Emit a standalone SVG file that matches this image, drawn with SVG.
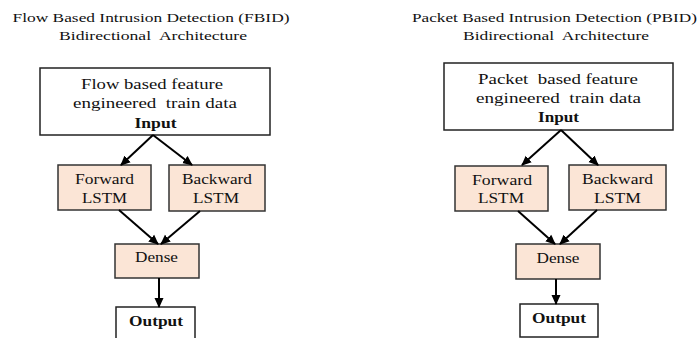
<svg xmlns="http://www.w3.org/2000/svg" width="700" height="338" viewBox="0 0 700 338">
<style>
text{font-family:"Liberation Serif","Times New Roman",serif;fill:#111;text-anchor:middle;white-space:pre}
.t{font-size:13px}
.b{font-size:15px}
.bold{font-weight:bold}
.box{fill:#fff;stroke:#222;stroke-width:1.5}
.pe{fill:#fbe5d6;stroke:#333;stroke-width:1.5}
.c line{stroke:#000;stroke-width:2;marker-end:url(#ah)}
</style>
<defs>
<marker id="ah" markerUnits="userSpaceOnUse" markerWidth="10" markerHeight="10" viewBox="0 0 10 10" refX="9" refY="5" orient="auto">
<path d="M0,0.5 L10,5 L0,9.5 z" fill="#000"/>
</marker>
</defs>
<rect width="700" height="338" fill="#fff"/>
<g id="title-left">
<text class="t" x="151" y="22" textLength="277" lengthAdjust="spacingAndGlyphs">Flow Based Intrusion Detection (FBID)</text>
<text class="t" x="153" y="40" textLength="188" lengthAdjust="spacingAndGlyphs" xml:space="preserve">Bidirectional  Architecture</text>
</g>
<g id="title-right">
<text class="t" x="554.5" y="22" textLength="285" lengthAdjust="spacingAndGlyphs">Packet Based Intrusion Detection (PBID)</text>
<text class="t" x="556" y="40" textLength="186" lengthAdjust="spacingAndGlyphs" xml:space="preserve">Bidirectional  Architecture</text>
</g>
<g id="fbid-input">
<rect class="box" x="40" y="68" width="230" height="67"/>
<text class="b" x="152" y="89" textLength="142" lengthAdjust="spacingAndGlyphs">Flow based feature</text>
<text class="b" x="155" y="108" textLength="164" lengthAdjust="spacingAndGlyphs" xml:space="preserve">engineered  train data</text>
<text class="b bold" x="155.5" y="128" textLength="42" lengthAdjust="spacingAndGlyphs">Input</text>
</g>
<g id="fbid-forward">
<rect class="pe" x="58" y="165" width="93" height="45"/>
<text class="b" x="104.5" y="184" textLength="59" lengthAdjust="spacingAndGlyphs">Forward</text>
<text class="b" x="104.5" y="203" textLength="45" lengthAdjust="spacingAndGlyphs">LSTM</text>
</g>
<g id="fbid-backward">
<rect class="pe" x="169" y="165" width="96" height="46"/>
<text class="b" x="217" y="184" textLength="70" lengthAdjust="spacingAndGlyphs">Backward</text>
<text class="b" x="216" y="203" textLength="46" lengthAdjust="spacingAndGlyphs">LSTM</text>
</g>
<g id="fbid-dense">
<rect class="pe" x="115" y="244" width="84" height="34"/>
<text class="b" x="156.5" y="262" textLength="43" lengthAdjust="spacingAndGlyphs">Dense</text>
</g>
<g id="fbid-output">
<rect class="box" x="116" y="307" width="79" height="40"/>
<text class="b bold" x="156" y="326" textLength="54" lengthAdjust="spacingAndGlyphs">Output</text>
</g>
<g id="pbid-input">
<rect class="box" x="444" y="63" width="229" height="67"/>
<text class="b" x="558" y="84" textLength="160" lengthAdjust="spacingAndGlyphs" xml:space="preserve">Packet  based feature</text>
<text class="b" x="558.5" y="103" textLength="165" lengthAdjust="spacingAndGlyphs" xml:space="preserve">engineered  train data</text>
<text class="b bold" x="558.5" y="122" textLength="41" lengthAdjust="spacingAndGlyphs">Input</text>
</g>
<g id="pbid-forward">
<rect class="pe" x="455" y="166" width="93" height="45"/>
<text class="b" x="502" y="185" textLength="60" lengthAdjust="spacingAndGlyphs">Forward</text>
<text class="b" x="501" y="203" textLength="46" lengthAdjust="spacingAndGlyphs">LSTM</text>
</g>
<g id="pbid-backward">
<rect class="pe" x="569" y="165" width="97" height="45"/>
<text class="b" x="617.5" y="184" textLength="71" lengthAdjust="spacingAndGlyphs">Backward</text>
<text class="b" x="617.5" y="203" textLength="47" lengthAdjust="spacingAndGlyphs">LSTM</text>
</g>
<g id="pbid-dense">
<rect class="pe" x="516" y="244" width="84" height="35"/>
<text class="b" x="558" y="263" textLength="43" lengthAdjust="spacingAndGlyphs">Dense</text>
</g>
<g id="pbid-output">
<rect class="box" x="520" y="304" width="78" height="33"/>
<text class="b bold" x="559" y="323" textLength="54" lengthAdjust="spacingAndGlyphs">Output</text>
</g>
<g id="connectors" class="c">
<line x1="153" y1="135" x2="121" y2="165"/>
<line x1="153" y1="135" x2="192" y2="165"/>
<line x1="119" y1="210" x2="158" y2="244"/>
<line x1="200" y1="211" x2="161" y2="244"/>
<line x1="159" y1="278" x2="159" y2="307"/>
<line x1="561" y1="130" x2="522" y2="165"/>
<line x1="561" y1="130" x2="598" y2="165"/>
<line x1="518" y1="211" x2="555" y2="244"/>
<line x1="597" y1="210" x2="560" y2="244"/>
<line x1="556" y1="279" x2="556" y2="304"/>
</g>
</svg>
